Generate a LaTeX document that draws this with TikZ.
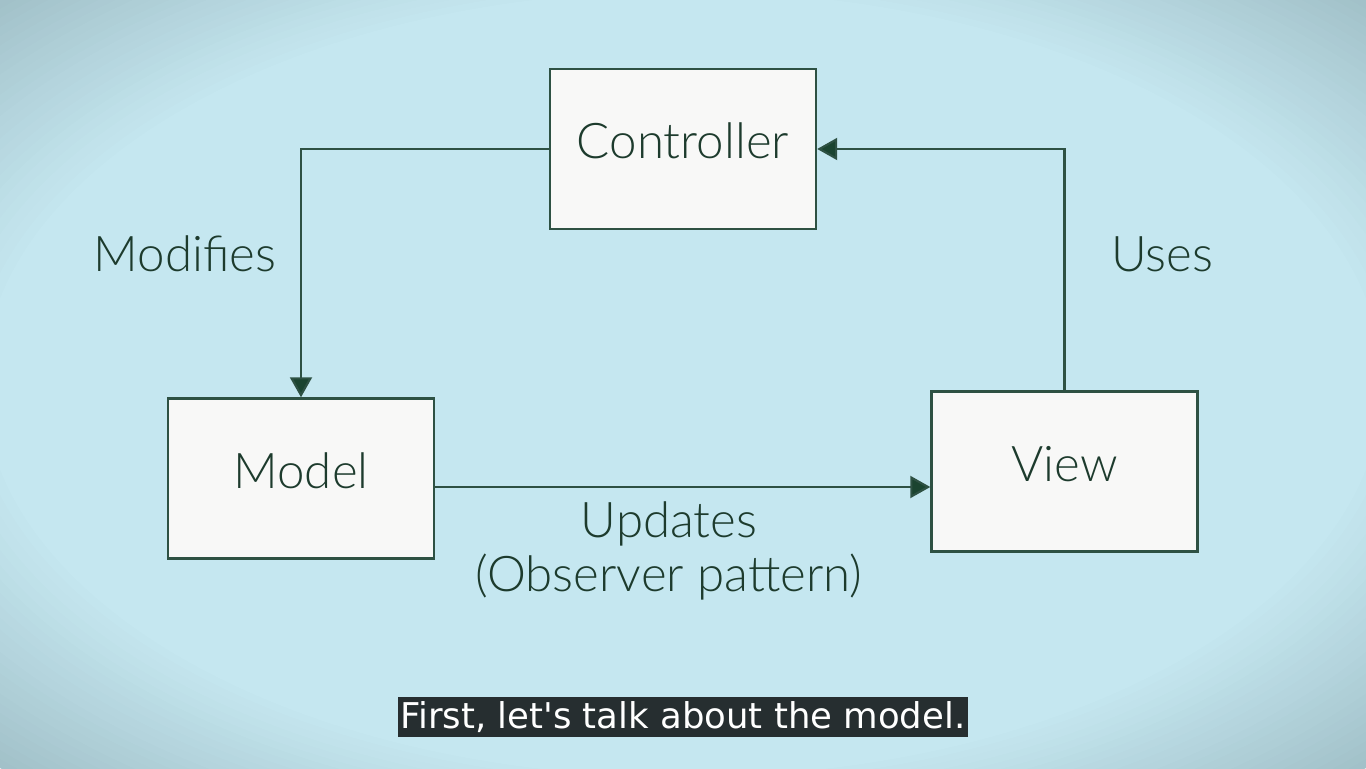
\documentclass[tikz,border=0pt]{standalone}
\usepackage{fontspec}
\setmainfont{Lato Light}
\newfontfamily\subfont{DejaVu Sans}
\usetikzlibrary{arrows.meta}

\definecolor{bginner}{HTML}{C5E7F0}
\definecolor{bgouter}{HTML}{A2C1C9}
\definecolor{ink}{HTML}{1D3B2D}
\definecolor{wire}{HTML}{2E5143}
\definecolor{tip}{HTML}{1B4430}
\definecolor{boxfill}{HTML}{F8F8F7}
\definecolor{capbg}{HTML}{262E30}

\tikzset{
  box/.style={draw=wire, line width=0.7pt, fill=boxfill, text=ink,
    minimum width=2.66cm, minimum height=1.6cm, inner sep=0pt,
    text height=0.36cm, text depth=0.16cm,
    font=\fontsize{14}{16}\selectfont},
  lbl/.style={text=ink, inner sep=0pt, align=center,
    font=\fontsize{14}{15.5}\selectfont},
  wirearrow/.style={draw=wire, line width=0.6pt,
    -{Triangle[length=2mm,width=2.2mm,fill=tip]}},
  caption/.style={fill=capbg, text=white, inner sep=0pt,
    minimum width=5.7cm, minimum height=0.4cm,
    font=\subfont\fontsize{10.1}{11}\selectfont}
}

\begin{document}
\begin{tikzpicture}
  \useasboundingbox (0,0) rectangle (13.66,7.68);
  % backdrop, darker towards the corners
  \begin{scope}
    \clip (0,0) rectangle (13.66,7.68);
    \fill[bgouter] (0,0) rectangle (13.66,7.68);
    \foreach \k in {0,...,24} {
      \pgfmathsetmacro\rx{9.66-\k*0.111}
      \pgfmathsetmacro\ry{5.43-\k*0.0625}
      \pgfmathtruncatemacro\p{\k*100/24}
      \fill[bginner!\p!bgouter] (6.83,3.84) ellipse ({\rx} and {\ry});
    }
  \end{scope}

  \draw
    (6.83,6.19) node[box] (ctrl){Controller}
    (3.01,2.895) node[box] (model){Model}
    (10.645,2.965) node[box] (view){View};
  \coordinate (upd) at (0,2.81);

  \begin{scope}[wirearrow]
    \draw (ctrl.west) -| (model.north);
    \draw (view.north) |- (ctrl.east);
    \draw (model.east |- upd) -- (view.west |- upd);
  \end{scope}

  \draw
    (1.85,5.14) node[lbl] (modifies){Modifies}
    (11.62,5.14) node[lbl] (uses){Uses}
    (6.69,2.17) node[lbl] (updates){Updates\\(Observer pattern)};

  \node[caption] (sub) at (6.83,0.51) {First, let's talk about the model.};
\end{tikzpicture}
\end{document}
